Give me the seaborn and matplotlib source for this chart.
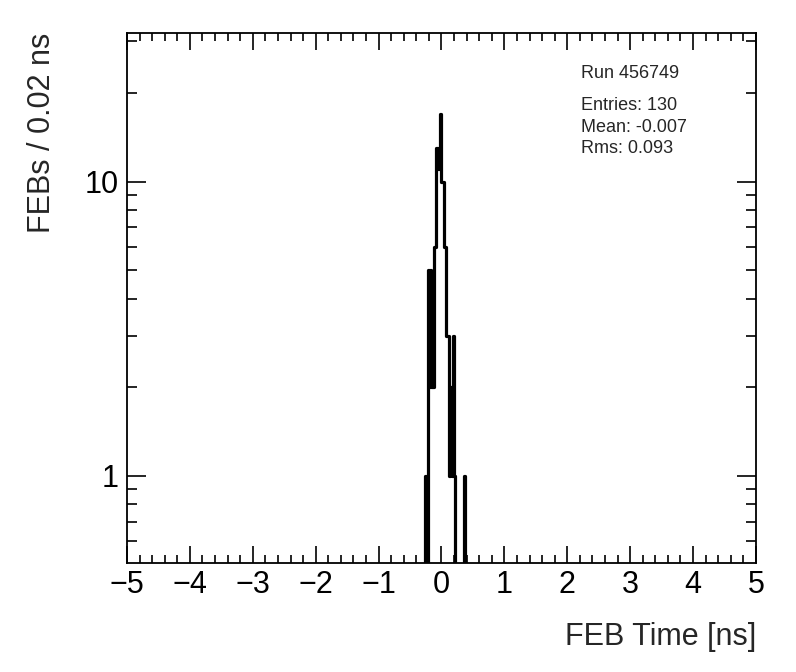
import numpy as np
import pandas as pd
import matplotlib
matplotlib.use("Agg")
import matplotlib.pyplot as plt
import seaborn as sns
from matplotlib.ticker import FixedLocator, MultipleLocator, NullFormatter

# FEB time histogram: 500 bins of 0.02 ns between -5 and 5 ns
bin_low = [-0.26, -0.22, -0.20, -0.18, -0.16, -0.14, -0.12, -0.10,
           -0.08, -0.06, -0.04, -0.02, 0.00, 0.02, 0.04, 0.06,
           0.08, 0.10, 0.12, 0.14, 0.16, 0.18, 0.20, 0.36]
counts = [1, 5, 2, 5, 2, 2, 6, 6,
          13, 11, 13, 17, 10, 10, 6, 6,
          3, 3, 1, 2, 1, 3, 1, 1]
run_label = "Run 456749"
stats_lines = ["Entries: 130", "Mean: -0.007", "Rms: 0.093"]

edges = np.linspace(-5, 5, 501)
centers = 0.5 * (edges[:-1] + edges[1:])
weights = np.zeros(500)
for lo, c in zip(bin_low, counts):
    weights[int(round((lo + 5) / 0.02))] = c
df = pd.DataFrame({"t": centers, "w": weights})

sns.set_style("ticks")
plt.rcParams["font.family"] = ["Liberation Sans", "DejaVu Sans"]

fig = plt.figure(figsize=(7.96, 6.72), dpi=100)
ax = fig.add_axes([0.1595, 0.1622, 0.7902, 0.7887])

sns.histplot(data=df, x="t", weights="w", binwidth=0.02, binrange=(-5, 5),
             element="step", fill=False, color="black", linewidth=2.3, ax=ax)
ax.set_yscale("log")
ax.set_xlim(-5, 5)
ax.set_ylim(0.506, 32)

ax.xaxis.set_major_locator(MultipleLocator(1))
ax.xaxis.set_minor_locator(MultipleLocator(0.2))
ax.yaxis.set_major_locator(FixedLocator([1, 10]))
ax.yaxis.set_minor_locator(FixedLocator([0.6, 0.7, 0.8, 0.9, 2, 3, 4, 5, 6, 7, 8, 9, 20, 30]))
ax.yaxis.set_minor_formatter(NullFormatter())
ax.set_yticklabels(["1", "10"])
ax.set_xticks(range(-5, 6))
ax.set_xticklabels([f"{v:d}".replace("-", "\u2212") for v in range(-5, 6)])

ax.tick_params(which="both", direction="in", top=True, right=True,
               width=1.2, labelsize=22, colors="black")
ax.tick_params(axis="x", which="major", length=12, pad=5)
ax.tick_params(axis="x", which="minor", length=6)
ax.tick_params(axis="y", which="major", length=14, pad=6)
ax.tick_params(axis="y", which="minor", length=7)
for s in ax.spines.values():
    s.set_linewidth(1.3)
    s.set_color("black")

ax.set_xlabel("FEB Time [ns]", fontsize=22, loc="right", labelpad=16)
ax.set_ylabel("FEBs / 0.02 ns", fontsize=22, loc="top", labelpad=20)

ax.text(0.730, 0.890, run_label, transform=fig.transFigure, fontsize=13, va="center")
for i, line in enumerate(stats_lines):
    ax.text(0.730, 0.843 - i * 0.032, line, transform=fig.transFigure,
            fontsize=13, va="center")

fig.savefig("out.png", dpi=100)
